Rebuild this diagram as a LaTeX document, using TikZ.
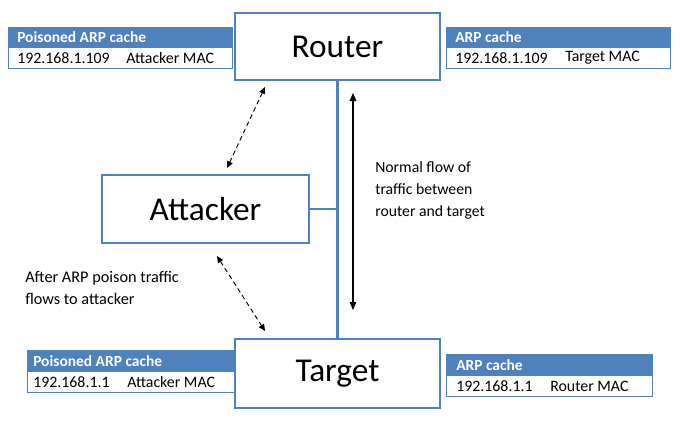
\documentclass[tikz,border=0pt]{standalone}
\usepackage{fontspec}
\setmainfont{Carlito}
\usetikzlibrary{arrows.meta}
\definecolor{obl}{HTML}{4F81BD}
\begin{document}
\begin{tikzpicture}[x=0.75pt,y=-0.75pt,
  bigbox/.style={draw=obl,line width=2pt,fill=white,minimum width=#1*0.75pt,inner sep=0pt,font=\fontsize{25}{30}\selectfont},
  hdr/.style={fill=obl,draw=obl,line width=0.75pt,anchor=north west,inner sep=0pt,minimum height=15pt},
  rowbox/.style={draw=obl,line width=0.75pt,fill=white,anchor=north west,inner sep=0pt,minimum height=15.75pt},
  htxt/.style={anchor=west,inner sep=0pt,text=white,font=\bfseries\fontsize{11.6}{13}\selectfont},
  rtxt/.style={anchor=west,inner sep=0pt,font=\fontsize{11.9}{13}\selectfont},
  ann/.style={anchor=west,inner sep=0pt,align=left,font=\fontsize{11.8}{16.5}\selectfont},
  link/.style={draw=obl,line width=2pt},
  dashar/.style={dashed,dash pattern=on 3.5pt off 2.5pt,line width=0.7pt,{Triangle[length=5pt,width=4.5pt]}-{Triangle[length=5pt,width=4.5pt]}},
  solar/.style={line width=0.8pt,{Triangle[length=6pt,width=5pt]}-{Triangle[length=6pt,width=5pt]}}]
\useasboundingbox (0,0) rectangle (680,428);
% main boxes
\node[bigbox=205,minimum height=50.25pt] (router) at (337.5,46.5) {Router};
\node[bigbox=205,minimum height=51.75pt] (target) at (337.5,373.5) {Target};
\node[bigbox=207,minimum height=51pt] (attacker) at (205.5,209) {Attacker};
\coordinate (junc) at (router.south |- attacker.east);
\draw[link] (router.south) -- (target.north);
\draw[link] (attacker.east) -- (junc);
% arrows
\coordinate (d1a) at (265,87);
\coordinate (d1b) at (227,168);
\coordinate (d2a) at (217,256);
\coordinate (d2b) at (265,331);
\draw[dashar] (d1a) -- (d1b);
\draw[dashar] (d2a) -- (d2b);
\coordinate (n1) at (353,93);
\coordinate (n2) at (353,310);
\draw[solar] (n1) -- (n2);
% annotations
\node[ann] (normal) at (375,190.5) {Normal flow of\\traffic between\\router and target};
\node[ann,font=\fontsize{12.2}{16.5}\selectfont] (after) at (25,287.5) {After ARP poison traffic\\flows to attacker};
% tables
\node[hdr,minimum width=168pt] (h1) at (8,27) {};
\node[rowbox,minimum width=168pt] (r1) at (8,47) {};
\node[htxt] (h1t) at (17,37) {Poisoned ARP cache};
\node[rtxt] (r1a) at (17,58) {192.168.1.109};
\node[rtxt] (r1b) at (126,58) {Attacker MAC};

\node[hdr,minimum width=168pt] (h2) at (446,27) {};
\node[rowbox,minimum width=168pt] (r2) at (446,47) {};
\node[htxt] (h2t) at (455,37) {ARP cache};
\node[rtxt] (r2a) at (455,58) {192.168.1.109};
\node[rtxt] (r2b) at (565,58) {Target MAC};

\node[hdr,minimum width=155.25pt,minimum height=15.75pt] (h3) at (27,350) {};
\node[rowbox,minimum width=155.25pt] (r3) at (27,371) {};
\node[htxt] (h3t) at (33,361) {Poisoned ARP cache};
\node[rtxt] (r3a) at (33,382) {192.168.1.1};
\node[rtxt] (r3b) at (127,382) {Attacker MAC};

\node[hdr,minimum width=154.5pt,minimum height=15.75pt] (h4) at (446,354) {};
\node[rowbox,minimum width=154.5pt] (r4) at (446,375) {};
\node[htxt] (h4t) at (456,365) {ARP cache};
\node[rtxt] (r4a) at (456,386) {192.168.1.1};
\node[rtxt] (r4b) at (550,386) {Router MAC};
\end{tikzpicture}
\end{document}
